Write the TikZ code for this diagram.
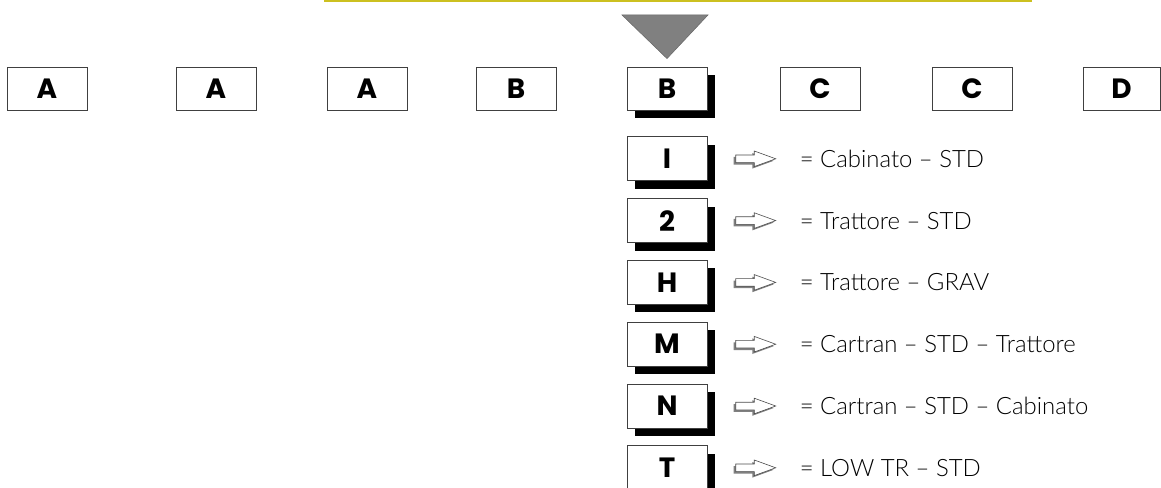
\documentclass[tikz,border=0pt]{standalone}
\usepackage{fontspec}
\IfFontExistsTF{Lato Light}{\setmainfont{Lato Light}}{\setmainfont{Lato}}
\newfontfamily\keyfont{Poppins}
\usetikzlibrary{positioning,shadows,shapes.arrows}
\definecolor{rulegold}{RGB}{204,192,32}
\definecolor{markgray}{RGB}{128,128,128}

\begin{document}
\begin{tikzpicture}[x=1bp, y=-1bp,
        code/.style={draw=black!75, line width=0.8bp, fill=white, rectangle, minimum width=80bp, minimum height=43bp, inner sep=0pt, font=\keyfont\bfseries\fontsize{28}{28}\selectfont},
        raised/.style={code, drop shadow={shadow xshift=8bp, shadow yshift=-8bp, fill=black, opacity=1}},
        hint/.style={single arrow, draw=black!70, line width=0.6bp, fill=white, minimum width=15bp, minimum height=40bp, inner xsep=0pt, inner ysep=3.5bp, single arrow head extend=4bp, single arrow tip angle=40, drop shadow={shadow xshift=-2bp, shadow yshift=-2bp, fill=markgray, opacity=1}},
        note/.style={anchor=west, inner sep=0pt, font=\fontsize{24}{24}\selectfont}
    ]
        \useasboundingbox (0,0) rectangle (1161,488);

        % top rule
        \draw[rulegold, line width=2.5bp] (324,1) -- (1032,1);

        % code row
        \node[code] (a1) at (47, 88.5) {A};
        \node[code] (a2) at (216, 88.5) {A};
        \node[code] (a3) at (367, 88.5) {A};
        \node[code] (b1) at (516, 88.5) {B};
        \node[raised] (bsel) at (667, 88.5) {B};
        \node[code] (c1) at (820, 88.5) {C};
        \node[code] (c2) at (972, 88.5) {C};
        \node[code, minimum width=77bp] (d1) at (1121.5, 88.5) {D};

        % marker on the selected position
        \draw[fill=markgray, draw=black!60, line width=0.5bp] (622,15) -- (708,15) -- ([yshift=8bp]bsel.north) -- cycle;

        % values of the selected position
        \node[raised, minimum height=44bp, below=26bp of bsel] (vi) {I};
        \node[raised, minimum height=44bp, below=17bp of vi] (v2) {2};
        \node[raised, minimum height=44bp, below=17bp of v2] (vh) {H};
        \node[raised, minimum height=44bp, below=17bp of vh] (vm) {M};
        \node[raised, minimum height=44bp, below=17bp of vm] (vn) {N};
        \node[raised, minimum height=44bp, below=17bp of vn] (vt) {T};

        \node[hint, right=28bp of vi] (hi) {};
        \node[hint, right=28bp of v2] (h2) {};
        \node[hint, right=28bp of vh] (hh) {};
        \node[hint, right=28bp of vm] (hm) {};
        \node[hint, right=28bp of vn] (hn) {};
        \node[hint, right=28bp of vt] (ht) {};

        \node[note, right=23bp of hi] (ti) {= Cabinato -- STD};
        \node[note, right=23bp of h2] (t2) {= Trattore -- STD};
        \node[note, right=23bp of hh] (th) {= Trattore -- GRAV};
        \node[note, right=23bp of hm] (tm) {= Cartran -- STD -- Trattore};
        \node[note, right=23bp of hn] (tn) {= Cartran -- STD -- Cabinato};
        \node[note, right=23bp of ht] (tt) {= LOW TR -- STD};
    \end{tikzpicture}
\end{document}
